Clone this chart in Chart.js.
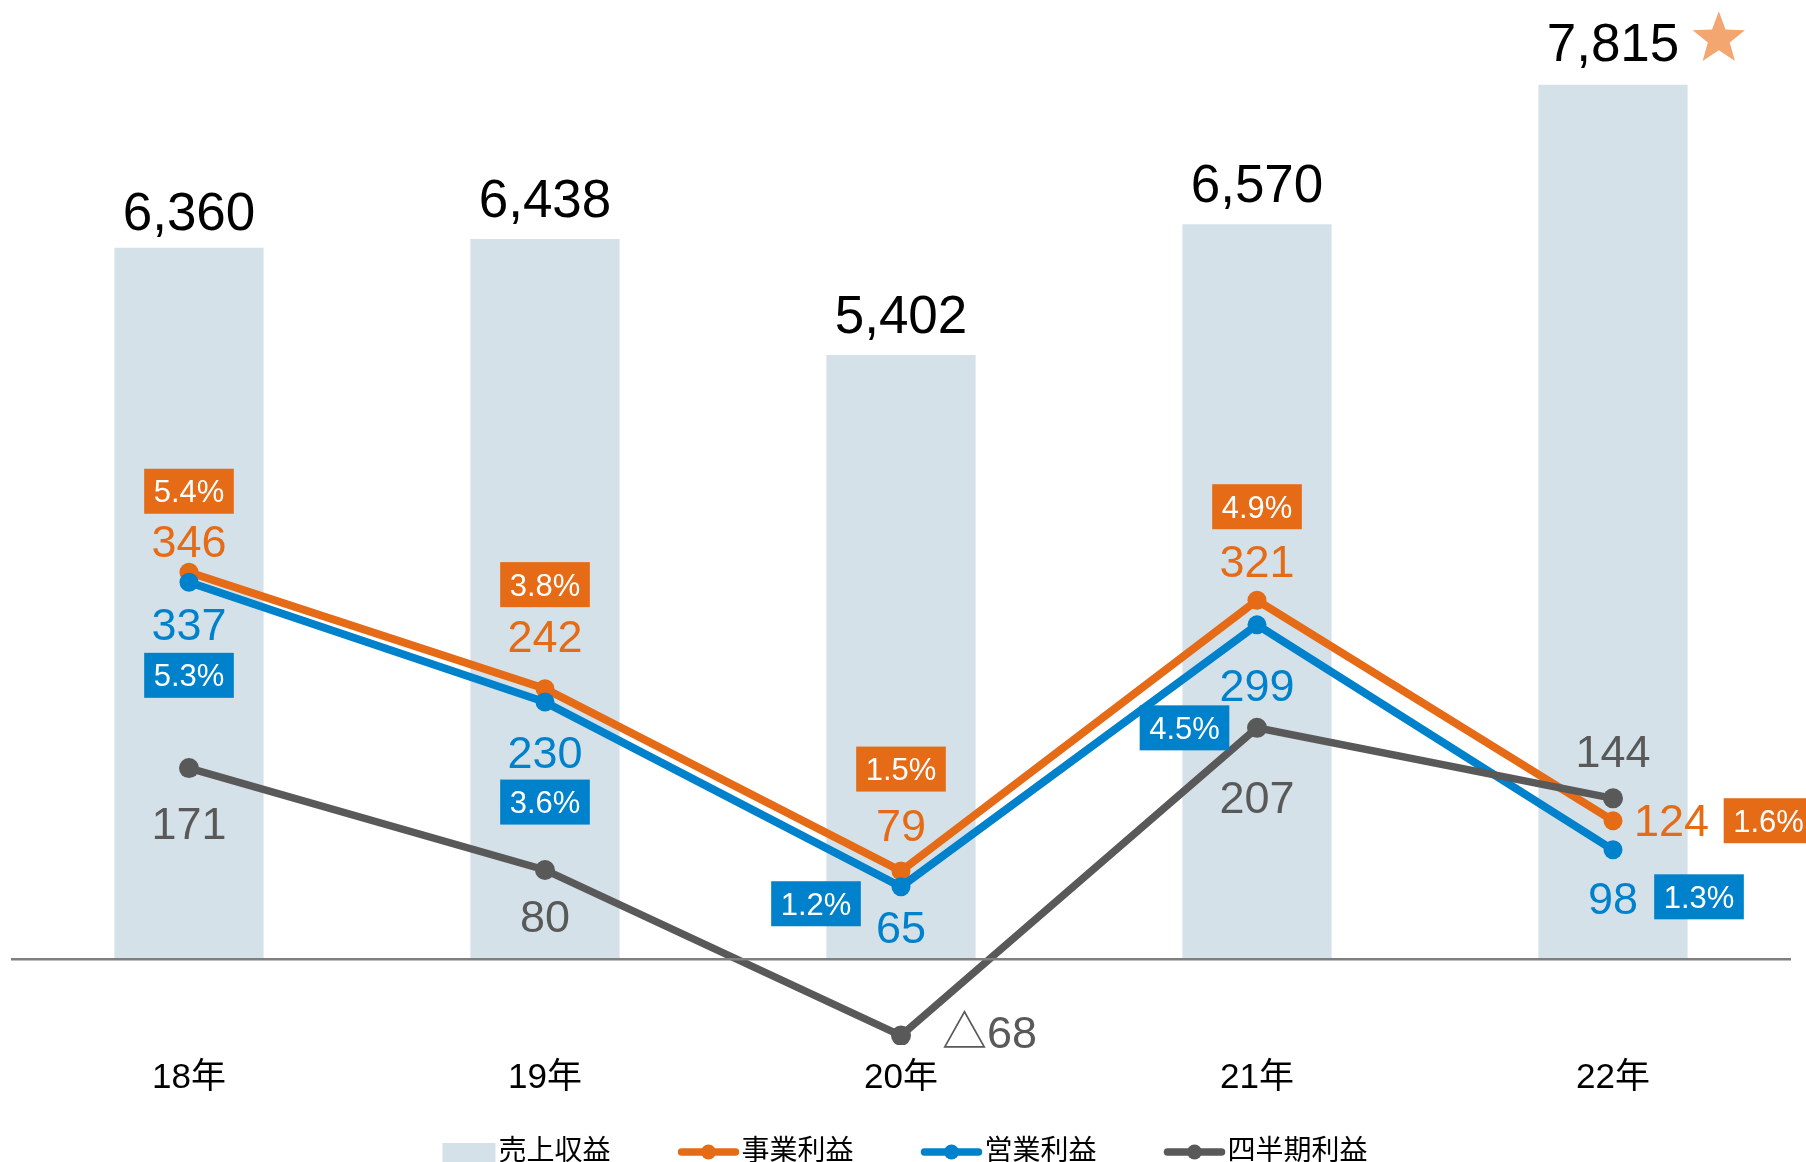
<!DOCTYPE html>
<html>
<head>
<meta charset="utf-8">
<script src="https://cdn.jsdelivr.net/npm/chart.js@4.4.1/dist/chart.umd.min.js"></script>
<style>
  html, body { margin: 0; padding: 0; background: #fff; }
  #c { display: block; }
</style>
</head>
<body>
<canvas id="c" width="1806" height="1162"></canvas>
<script>
// ---- data ----
const categories = ['18年', '19年', '20年', '21年', '22年'];
const seriesNames = ['売上収益', '事業利益', '営業利益', '四半期利益'];
const revenue = [6360, 6438, 5402, 6570, 7815];
const businessProfit = [346, 242, 79, 321, 124];
const operatingProfit = [337, 230, 65, 299, 98];
const quarterlyProfit = [171, 80, -68, 207, 144];
const businessMargin = [5.4, 3.8, 1.5, 4.9, 1.6];
const operatingMargin = [5.3, 3.6, 1.2, 4.5, 1.3];
const starredIndex = 4;

// ---- styles ----
const FONT = "'Liberation Sans', Arial, 'Noto Sans CJK JP', sans-serif";
const BAR = '#D5E1E8';
const ORANGE = '#E56B17';
const BLUE = '#0081CC';
const GRAY = '#595959';
const STAR = '#F4A670';

// label offsets relative to each point [dx, dy, align]
const barLabelGap = [37, 41, 41, 41, 42.5];
const valuePos = {
  1: [[0, -31], [0, -52.5], [0, -46], [0, -39], [21, -1, 'left']],
  2: [[0, 42], [0, 50], [0, 40.5], [0, 60.5], [0, 48]],
  3: [[0, 54.5], [0, 46], [41, -4, 'left'], [0, 69.5], [0, -47]]
};
const boxPos = {
  1: [[0, -81], [0, -104], [0, -102], [0, -93.5], [155.5, 0]],
  2: [[0, 93], [0, 100], [-85, 17], [-72.5, 103], [86, 47]]
};

function fmtValue(v) {
  return v < 0 ? '△' + Math.abs(v).toLocaleString('en-US') : v.toLocaleString('en-US');
}

function drawText(ctx, text, x, cy, size, color, align) {
  ctx.font = size + 'px ' + FONT;
  ctx.fillStyle = color;
  ctx.textAlign = align || 'center';
  ctx.textBaseline = 'alphabetic';
  ctx.fillText(text, x, cy + size * 0.358);
}

function drawStar(ctx, cx, cy, R, r, color) {
  ctx.beginPath();
  for (let k = 0; k < 10; k++) {
    const rad = k % 2 === 0 ? R : r;
    const a = -Math.PI / 2 + k * Math.PI / 5;
    const px = cx + rad * Math.cos(a), py = cy + rad * Math.sin(a);
    if (k === 0) ctx.moveTo(px, py); else ctx.lineTo(px, py);
  }
  ctx.closePath();
  ctx.fillStyle = color;
  ctx.fill();
}

const labelPlugin = {
  id: 'customLabels',
  afterDraw(chart) {
    const ctx = chart.ctx;
    ctx.save();
    // bar value labels
    chart.getDatasetMeta(0).data.forEach((el, i) => {
      const txt = fmtValue(revenue[i]);
      const cy = el.y - barLabelGap[i];
      drawText(ctx, txt, el.x, cy, 53, '#000');
      if (i === starredIndex) {
        ctx.font = '53px ' + FONT;
        const w = ctx.measureText(txt).width;
        drawStar(ctx, el.x + w / 2 + 39.5, cy - 3.5, 27.5, 11.5, STAR);
      }
    });
    // line value labels
    const lineSets = { 1: [businessProfit, ORANGE], 2: [operatingProfit, BLUE], 3: [quarterlyProfit, GRAY] };
    Object.keys(lineSets).forEach(di => {
      const [vals, color] = lineSets[di];
      chart.getDatasetMeta(+di).data.forEach((el, i) => {
        const p = valuePos[di][i];
        drawText(ctx, fmtValue(vals[i]), el.x + p[0], el.y + p[1], 45, color, p[2] || 'center');
      });
    });
    // margin boxes
    const boxSets = { 1: [businessMargin, ORANGE], 2: [operatingMargin, BLUE] };
    Object.keys(boxSets).forEach(di => {
      const [vals, color] = boxSets[di];
      chart.getDatasetMeta(+di).data.forEach((el, i) => {
        const p = boxPos[di][i];
        const txt = vals[i].toFixed(1) + '%';
        ctx.font = '31px ' + FONT;
        const w = ctx.measureText(txt).width + 19;
        const h = 45;
        const cx = el.x + p[0], cy = el.y + p[1];
        ctx.fillStyle = color;
        ctx.fillRect(cx - w / 2, cy - h / 2, w, h);
        drawText(ctx, txt, cx, cy, 31, '#fff');
      });
    });
    // legend
    const items = [
      { text: seriesNames[0], type: 'box', color: BAR },
      { text: seriesNames[1], type: 'line', color: ORANGE },
      { text: seriesNames[2], type: 'line', color: BLUE },
      { text: seriesNames[3], type: 'line', color: GRAY }
    ];
    ctx.font = '28px ' + FONT;
    const gap = 68, ly = 1152;
    items.forEach(it => {
      it.sw = it.type === 'box' ? 53 : 60;
      it.tw = ctx.measureText(it.text).width;
      it.w = it.sw + 3 + it.tw;
    });
    const total = items.reduce((s, it) => s + it.w, 0) + gap * (items.length - 1);
    let x = 905 - total / 2;
    items.forEach(it => {
      if (it.type === 'box') {
        ctx.fillStyle = it.color;
        ctx.fillRect(x, 1143, it.sw, 22);
      } else {
        ctx.strokeStyle = it.color;
        ctx.lineWidth = 7.5;
        ctx.lineCap = 'round';
        ctx.beginPath();
        ctx.moveTo(x + 3, ly);
        ctx.lineTo(x + it.sw - 3, ly);
        ctx.stroke();
        ctx.beginPath();
        ctx.arc(x + it.sw / 2, ly, 7.5, 0, Math.PI * 2);
        ctx.fillStyle = it.color;
        ctx.fill();
      }
      drawText(ctx, it.text, x + it.sw + 3, 1150, 28, '#000', 'left');
      x += it.w + gap;
    });
    ctx.restore();
  }
};

const yMin = -764, yMax = 8305;

new Chart(document.getElementById('c'), {
  data: {
    labels: categories,
    datasets: [
      { type: 'bar', label: seriesNames[0], data: revenue, backgroundColor: BAR, yAxisID: 'y',
        order: 3, categoryPercentage: 1, barPercentage: 0.419 },
      { type: 'line', label: seriesNames[1], data: businessProfit, borderColor: ORANGE, backgroundColor: ORANGE,
        yAxisID: 'y2', order: 2, borderWidth: 8, pointRadius: 9.5, pointBorderWidth: 0, pointBackgroundColor: ORANGE, tension: 0 },
      { type: 'line', label: seriesNames[2], data: operatingProfit, borderColor: BLUE, backgroundColor: BLUE,
        yAxisID: 'y2', order: 1, borderWidth: 8, pointRadius: 9.5, pointBorderWidth: 0, pointBackgroundColor: BLUE, tension: 0 },
      { type: 'line', label: seriesNames[3], data: quarterlyProfit, borderColor: GRAY, backgroundColor: GRAY,
        yAxisID: 'y2', order: 0, borderWidth: 7.5, pointRadius: 10, pointBorderWidth: 0, pointBackgroundColor: GRAY, tension: 0 }
    ]
  },
  options: {
    responsive: false,
    animation: false,
    layout: { padding: { left: 11, right: 15, top: 30, bottom: 51 } },
    plugins: { legend: { display: false }, tooltip: { enabled: false } },
    scales: {
      x: {
        offset: true,
        grid: { display: false, drawTicks: false },
        border: { display: false },
        ticks: { font: { size: 35, family: FONT }, color: '#000', padding: 12 }
      },
      y: {
        min: yMin, max: yMax,
        afterBuildTicks: axis => { axis.ticks = [{ value: 0 }]; },
        ticks: { display: false },
        border: { display: false },
        grid: { drawTicks: false, lineWidth: 2.5, z: 1,
          color: c => (c.tick && c.tick.value === 0) ? '#7F7F7F' : 'rgba(0,0,0,0)' }
      },
      y2: { min: yMin / 10, max: yMax / 10, display: false }
    }
  },
  plugins: [labelPlugin]
});
</script>
</body>
</html>
